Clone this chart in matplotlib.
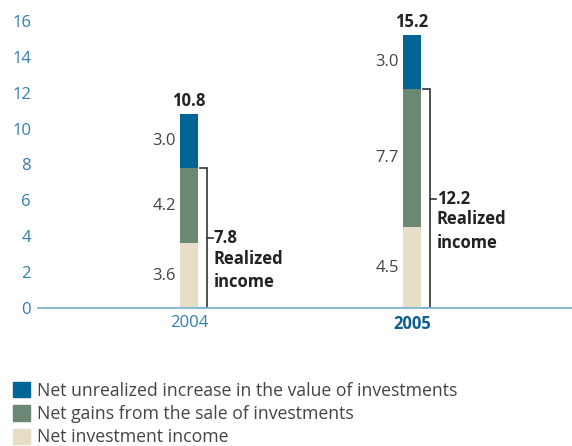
import numpy as np
import matplotlib.pyplot as plt
from matplotlib.patches import Patch

plt.rcParams['font.family'] = ['Open Sans', 'DejaVu Sans']

years = ['2004', '2005']
investment_income = [3.6, 4.5]
sale_gains = [4.2, 7.7]
unrealized = [3.0, 3.0]
totals = [10.8, 15.2]
realized = [7.8, 12.2]

labels = ['Net unrealized increase in the value of investments',
          'Net gains from the sale of investments',
          'Net investment income']
colors = ['#006496', '#6b8874', '#e7ddc7']

tick_blue = '#2f7fb0'
axis_blue = '#7db5d2'
text_grey = '#444444'

fig = plt.figure(figsize=(5.72, 4.46), dpi=100)
ax = fig.add_axes([38 / 572, 138 / 446, 534 / 572, 287 / 446])

x = np.arange(len(years))
w = 0.081
inc = np.array(investment_income)
gain = np.array(sale_gains)
unr = np.array(unrealized)

ax.bar(x, inc, w, color=colors[2])
ax.bar(x, gain, w, bottom=inc, color=colors[1])
ax.bar(x, unr, w, bottom=inc + gain, color=colors[0])

fs = 12
for i in range(len(years)):
    bottoms = [0, inc[i], inc[i] + gain[i]]
    for b, v in zip(bottoms, [inc[i], gain[i], unr[i]]):
        ax.annotate(f'{v:.1f}', (x[i] - w / 2, b + v / 2), xytext=(-3, 0),
                    textcoords='offset points', ha='right', va='center',
                    fontsize=fs, color=text_grey)
    ax.annotate(f'{totals[i]:.1f}', (x[i], totals[i]), xytext=(0, 3),
                textcoords='offset points', ha='center', va='bottom',
                fontsize=fs, fontweight='bold', color='#222222')

    # bracket around realized income
    bx = x[i] + w / 2 + 0.04
    top = realized[i]
    ax.plot([bx - 0.03, bx, bx, bx - 0.03], [top, top, 0, 0],
            color='#333333', lw=1.2, solid_joinstyle='miter')
    mid = top / 2
    ax.plot([bx, bx + 0.025], [mid, mid], color='#333333', lw=1.2)
    ax.annotate(f'{realized[i]:.1f}', (bx + 0.03, mid), ha='left', va='center',
                fontsize=fs, fontweight='bold', color='#222222')
    ax.annotate('Realized\nincome', (bx + 0.03, mid), xytext=(0, -8.5),
                textcoords='offset points', ha='left', va='top',
                fontsize=fs, fontweight='bold', color='#222222',
                linespacing=1.4)

ax.set_xlim(-0.677, 1.717)
ax.set_ylim(0, 16)
ax.set_yticks(range(0, 17, 2))
ax.set_xticks(x)
ax.set_xticklabels(years)
ax.tick_params(length=0, labelsize=fs, colors=tick_blue, pad=5)
xl = ax.get_xticklabels()
xl[1].set_fontweight('bold')
xl[1].set_color('#0f5f8c')
for s in ['top', 'right', 'left']:
    ax.spines[s].set_visible(False)
ax.spines['bottom'].set_color(axis_blue)
ax.spines['bottom'].set_linewidth(1.3)

handles = [Patch(color=c) for c in colors]
fig.legend(handles, labels, loc='upper left', bbox_to_anchor=(0.01, 0.16),
           frameon=False, fontsize=12.7, handlelength=0.95, handleheight=0.95,
           handletextpad=0.45, labelspacing=0.3, borderaxespad=0,
           labelcolor=text_grey)

fig.savefig('out.png', dpi=100)
